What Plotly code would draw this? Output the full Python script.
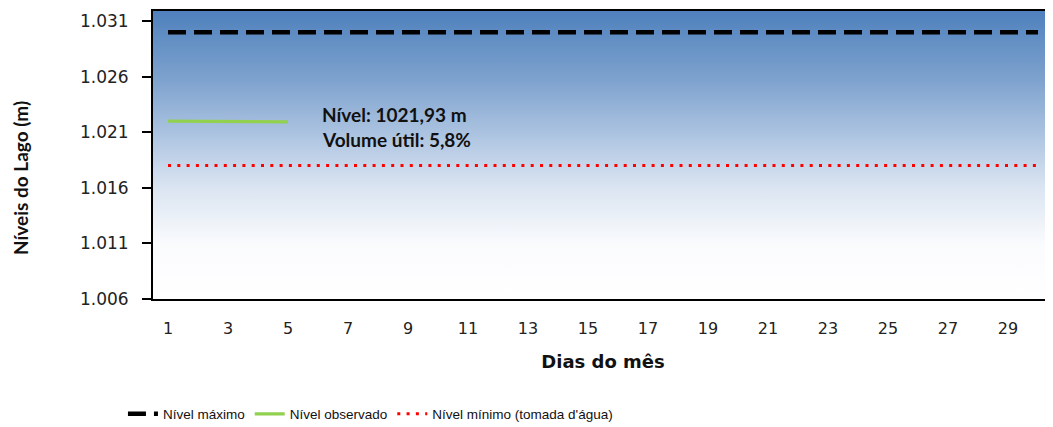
import plotly.graph_objects as go

# ---- data ----
days = list(range(1, 31))
nivel_maximo = [1030.0] * 30
nivel_minimo = [1018.0] * 30
obs_days = [1, 2, 3, 4, 5]
nivel_observado = [1021.99, 1021.99, 1021.98, 1021.96, 1021.93]
y_tickvals = [1006, 1011, 1016, 1021, 1026, 1031]
y_ticktext = ["1.006", "1.011", "1.016", "1.021", "1.026", "1.031"]
x_tickvals = list(range(1, 30, 2))
annot_lines = ["Nível: 1021,93 m", "Volume útil: 5,8%"]
y_title = "Níveis do Lago (m)"
x_title = "Dias do mês"

X_RANGE = [0.5, 30.5]
Y_RANGE = [1006, 1031.9]

fig = go.Figure()

# gradient background of plot area
fig.add_trace(go.Scatter(
    x=[X_RANGE[0], X_RANGE[1], X_RANGE[1], X_RANGE[0], X_RANGE[0]],
    y=[Y_RANGE[0], Y_RANGE[0], Y_RANGE[1], Y_RANGE[1], Y_RANGE[0]],
    mode="lines", line=dict(width=0), fill="toself",
    fillgradient=dict(
        type="vertical", start=Y_RANGE[0], stop=Y_RANGE[1],
        colorscale=[
            [0.0, "rgb(255,255,255)"],
            [0.19, "rgb(250,251,253)"],
            [0.39, "rgb(218,228,241)"],
            [0.58, "rgb(170,194,224)"],
            [0.77, "rgb(124,161,205)"],
            [1.0, "rgb(79,129,189)"],
        ]),
    showlegend=False, hoverinfo="skip"))

fig.add_trace(go.Scatter(
    x=days, y=nivel_maximo, mode="lines", name="Nível máximo",
    line=dict(color="black", width=4.5, dash="18px,8px")))
fig.add_trace(go.Scatter(
    x=obs_days, y=nivel_observado, mode="lines", name="Nível observado",
    line=dict(color="#92D050", width=3.3)))
fig.add_trace(go.Scatter(
    x=days, y=nivel_minimo, mode="lines", name="Nível mínimo (tomada d'água)",
    line=dict(color="#FF0000", width=3, dash="3px,6.3px")))

for i, t in enumerate(annot_lines):
    fig.add_annotation(
        x=6.05, y=[1022.55, 1020.3][i], xref="x", yref="y", text=t,
        showarrow=False, xanchor="left", yanchor="middle",
        font=dict(family="Lato", size=19, color="#111111", weight="bold"))

# y-axis title (placed slightly below the plot's middle, as in the reference)
fig.add_annotation(
    xref="paper", yref="paper", x=0, y=0.42, xshift=-133, textangle=-90,
    text="<b>" + y_title + "</b>", showarrow=False,
    xanchor="center", yanchor="middle",
    font=dict(family="Lato", size=19, color="#111111"))

# page has an ~8px body margin: figure is shrunk so the plot lands where the reference has it
fig.update_layout(
    width=1045, height=419,
    margin=dict(l=145, r=0, t=3, b=128, autoexpand=False),
    paper_bgcolor="white", plot_bgcolor="white",
    showlegend=True,
    legend=dict(orientation="h", xref="container", x=0.11, xanchor="left",
                yref="container", y=0.031, yanchor="middle",
                font=dict(family="Liberation Sans", size=13.5, color="#111111"),
                entrywidthmode="pixels", tracegroupgap=0),
    xaxis=dict(range=X_RANGE, tickvals=x_tickvals, showgrid=False,
               zeroline=False, showline=True, linecolor="black", linewidth=2,
               mirror=True, ticks="", ticklabelstandoff=14,
               tickfont=dict(family="DejaVu Sans", size=16, color="#222222"),
               title=dict(text="<b>" + x_title + "</b>", standoff=18,
                          font=dict(family="DejaVu Sans", size=18, color="#111111"))),
    yaxis=dict(range=Y_RANGE, tickvals=y_tickvals, ticktext=y_ticktext,
               showgrid=False, zeroline=False, showline=True, linecolor="black",
               linewidth=2, ticks="outside", ticklen=9, tickcolor="black",
               tickwidth=1.5, ticklabelstandoff=10,
               tickfont=dict(family="DejaVu Sans", size=17, color="#222222")),
)

fig.write_html("out.html")
